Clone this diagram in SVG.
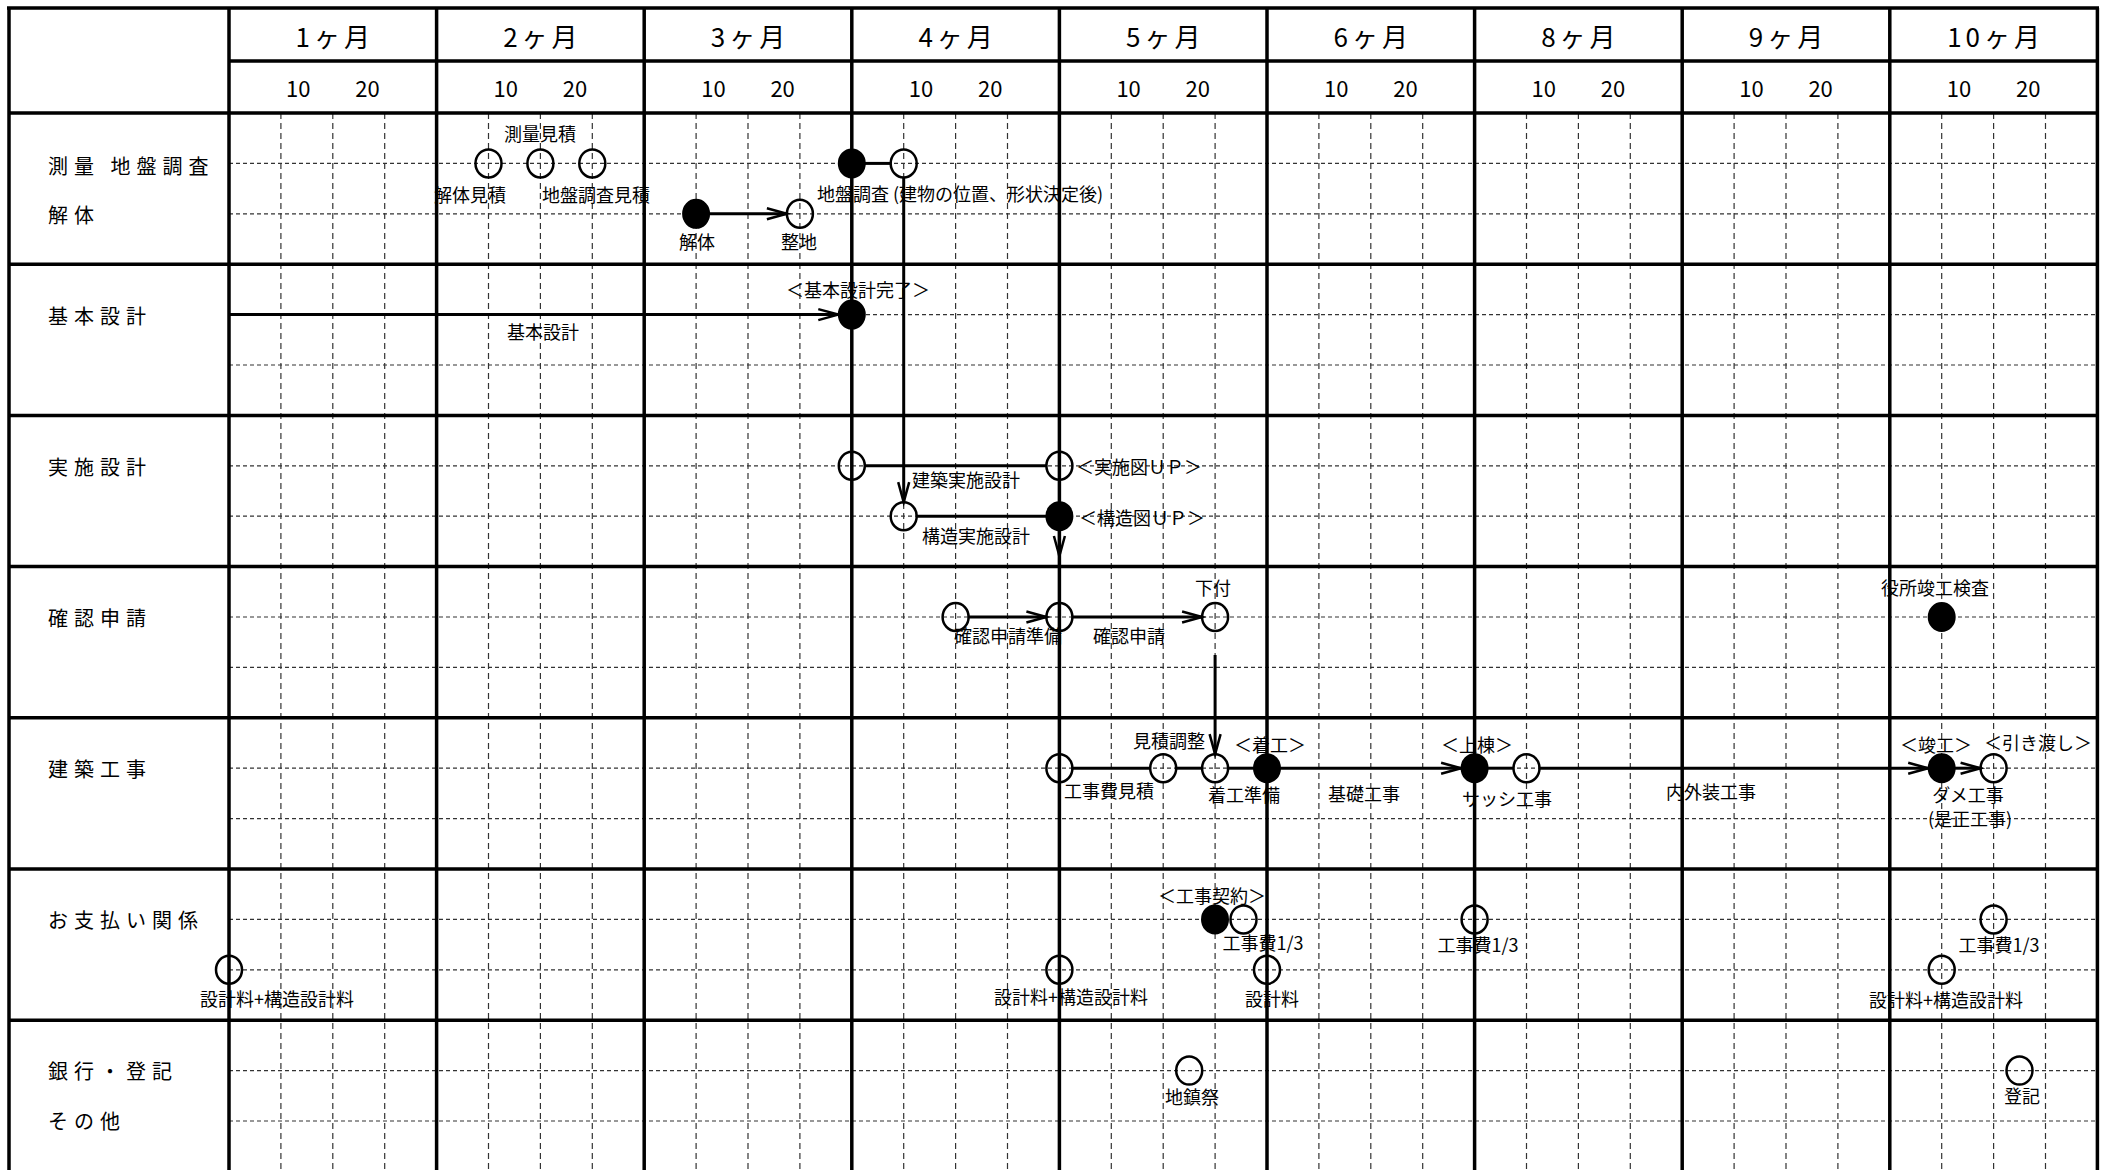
<svg xmlns="http://www.w3.org/2000/svg" width="2101" height="1170" viewBox="0 0 2101 1170">
<style>
.thick{stroke:#000;stroke-width:3.5;fill:none}
.dh{stroke:#333;stroke-width:1.2;stroke-dasharray:4 3;fill:none}
.dv{stroke:#333;stroke-width:1.2;stroke-dasharray:6 4;fill:none}
.open{fill:none;stroke:#000;stroke-width:2.5}
.filled{fill:#000;stroke:#000;stroke-width:2}
.conn{stroke:#000;stroke-width:3;fill:none}
.arr{stroke:#000;stroke-width:3;fill:none;marker-end:url(#ah)}
text{font-family:"Noto Sans CJK JP","Noto Sans CJK SC",sans-serif;fill:#000;dominant-baseline:central}
.lbl{font-size:18px;text-anchor:middle}
.lbs{font-size:18px;text-anchor:start}
.sec{font-size:20px;letter-spacing:6px;text-anchor:start}
.mon{font-size:26px;letter-spacing:4px;text-anchor:middle}
.day{font-size:22px;text-anchor:middle}
</style>
<defs>
<marker id="ah" viewBox="0 0 20 12" refX="20" refY="6" markerWidth="20" markerHeight="12" markerUnits="userSpaceOnUse" orient="auto" overflow="visible">
<path d="M0,0.5 L20,6 L0,11.5" fill="none" stroke="#000" stroke-width="2.5"/>
</marker>
</defs>
<rect x="0" y="0" width="2101" height="1170" fill="#fff"/>
<g id="grid">
<path class="dv" d="M280.9,113V1170M332.8,113V1170M384.7,113V1170M488.5,113V1170M540.4,113V1170M592.3,113V1170M696.1,113V1170M748,113V1170M799.9,113V1170M903.7,113V1170M955.6,113V1170M1007.5,113V1170M1111.3,113V1170M1163.2,113V1170M1215.1,113V1170M1318.9,113V1170M1370.8,113V1170M1422.7,113V1170M1526.5,113V1170M1578.4,113V1170M1630.3,113V1170M1734.1,113V1170M1786,113V1170M1837.9,113V1170M1941.7,113V1170M1993.6,113V1170M2045.5,113V1170"/>
<path class="dh" d="M229,163.4H2097M229,213.8H2097M229,314.6H2097M229,365H2097M229,465.8H2097M229,516.2H2097M229,617H2097M229,667.4H2097M229,768.2H2097M229,818.6H2097M229,919.4H2097M229,969.8H2097M229,1070.6H2097M229,1121H2097"/>
<path class="thick" d="M9,8V1172M229,8V1172M436.6,8V1172M644.2,8V1172M851.8,8V1172M1059.4,8V1172M1267,8V1172M1474.6,8V1172M1682.2,8V1172M1889.8,8V1172M2097.4,8V1172"/>
<path class="thick" d="M7,8H2099M229,61H2097.4M9,113H2097.4M9,264.2H2097.4M9,415.4H2097.4M9,566.6H2097.4M9,717.8H2097.4M9,869H2097.4M9,1020.2H2097.4"/>
</g>
<g id="header">
<text class="mon" x="334.8" y="35">1ヶ月</text>
<text class="mon" x="542.4" y="35">2ヶ月</text>
<text class="mon" x="750" y="35">3ヶ月</text>
<text class="mon" x="957.6" y="35">4ヶ月</text>
<text class="mon" x="1165.2" y="35">5ヶ月</text>
<text class="mon" x="1372.8" y="35">6ヶ月</text>
<text class="mon" x="1580.4" y="35">8ヶ月</text>
<text class="mon" x="1788" y="35">9ヶ月</text>
<text class="mon" x="1995.6" y="35">10ヶ月</text>
<text class="day" x="298.2" y="87">10</text><text class="day" x="367.4" y="87">20</text>
<text class="day" x="505.8" y="87">10</text><text class="day" x="575" y="87">20</text>
<text class="day" x="713.4" y="87">10</text><text class="day" x="782.6" y="87">20</text>
<text class="day" x="921" y="87">10</text><text class="day" x="990.2" y="87">20</text>
<text class="day" x="1128.6" y="87">10</text><text class="day" x="1197.8" y="87">20</text>
<text class="day" x="1336.2" y="87">10</text><text class="day" x="1405.4" y="87">20</text>
<text class="day" x="1543.8" y="87">10</text><text class="day" x="1613" y="87">20</text>
<text class="day" x="1751.4" y="87">10</text><text class="day" x="1820.6" y="87">20</text>
<text class="day" x="1959" y="87">10</text><text class="day" x="2028.2" y="87">20</text>
</g>
<g id="sections">
<text class="sec" x="48" y="165">測量 地盤調査</text>
<text class="sec" x="48" y="214">解体</text>
<text class="sec" x="48" y="315">基本設計</text>
<text class="sec" x="48" y="466">実施設計</text>
<text class="sec" x="48" y="617">確認申請</text>
<text class="sec" x="48" y="768">建築工事</text>
<text class="sec" x="48" y="919">お支払い関係</text>
<text class="sec" x="48" y="1070">銀行・登記</text>
<text class="sec" x="48" y="1120">その他</text>
</g>
<g id="connectors">
<line class="arr" x1="710" y1="213.8" x2="786.9" y2="213.8"/>
<line class="conn" x1="865" y1="163.4" x2="890.7" y2="163.4"/>
<line class="arr" x1="903.7" y1="177.4" x2="903.7" y2="502.2"/>
<line class="arr" x1="229" y1="314.6" x2="838.3" y2="314.6"/>
<line class="conn" x1="864.8" y1="465.8" x2="1046.4" y2="465.8"/>
<line class="conn" x1="916.7" y1="516.2" x2="1046.4" y2="516.2"/>
<line class="arr" x1="1059.4" y1="530" x2="1059.4" y2="556"/>
<line class="arr" x1="968.6" y1="617" x2="1046.4" y2="617"/>
<line class="arr" x1="1072.4" y1="617" x2="1202.1" y2="617"/>
<line class="arr" x1="1215.1" y1="655" x2="1215.1" y2="754.2"/>
<line class="conn" x1="1072.4" y1="768.2" x2="1150.2" y2="768.2"/>
<line class="conn" x1="1176.2" y1="768.2" x2="1202.1" y2="768.2"/>
<line class="conn" x1="1228.1" y1="768.2" x2="1254" y2="768.2"/>
<line class="arr" x1="1280" y1="768.2" x2="1461.1" y2="768.2"/>
<line class="conn" x1="1487.6" y1="768.2" x2="1513.5" y2="768.2"/>
<line class="arr" x1="1539.5" y1="768.2" x2="1928.2" y2="768.2"/>
<line class="arr" x1="1954.7" y1="768.2" x2="1980.6" y2="768.2"/>
<text class="lbl" x="543" y="331">基本設計</text>
<text class="lbl" x="966" y="479">建築実施設計</text>
<text class="lbl" x="976" y="535">構造実施設計</text>
<text class="lbl" x="1129" y="635">確認申請</text>
<text class="lbl" x="1364" y="793">基礎工事</text>
<text class="lbl" x="1711" y="791">内外装工事</text>
</g>
<g id="n-kaitai-mitsumori"><ellipse class="open" cx="488.5" cy="163.4" rx="13" ry="14"/><text class="lbl" x="470" y="194">解体見積</text></g>
<g id="n-sokuryo-mitsumori"><ellipse class="open" cx="540.4" cy="163.4" rx="13" ry="14"/><text class="lbl" x="540" y="133">測量見積</text></g>
<g id="n-jiban-mitsumori"><ellipse class="open" cx="592.3" cy="163.4" rx="13" ry="14"/><text class="lbl" x="596" y="194">地盤調査見積</text></g>
<g id="n-kaitai"><ellipse class="filled" cx="696.1" cy="213.8" rx="13" ry="14"/><text class="lbl" x="697" y="241">解体</text></g>
<g id="n-seichi"><ellipse class="open" cx="799.9" cy="213.8" rx="13" ry="14"/><text class="lbl" x="799" y="241">整地</text></g>
<g id="n-jiban-start"><ellipse class="filled" cx="851.8" cy="163.4" rx="13" ry="14"/><text class="lbs" x="817" y="193">地盤調査 (建物の位置、形状決定後)</text></g>
<g id="n-jiban-end"><ellipse class="open" cx="903.7" cy="163.4" rx="13" ry="14"/></g>
<g id="n-kihon-kanryo"><ellipse class="filled" cx="851.8" cy="314.6" rx="13" ry="14"/><text class="lbl" x="858" y="289">＜基本設計完了＞</text></g>
<g id="n-kenchiku-start"><ellipse class="open" cx="851.8" cy="465.8" rx="13" ry="14"/></g>
<g id="n-jisshizu-up"><ellipse class="open" cx="1059.4" cy="465.8" rx="13" ry="14"/><text class="lbs" x="1076" y="466">＜実施図ＵＰ＞</text></g>
<g id="n-kozo-start"><ellipse class="open" cx="903.7" cy="516.2" rx="13" ry="14"/></g>
<g id="n-kozozu-up"><ellipse class="filled" cx="1059.4" cy="516.2" rx="13" ry="14"/><text class="lbs" x="1079" y="517">＜構造図ＵＰ＞</text></g>
<g id="n-kakunin-junbi"><ellipse class="open" cx="955.6" cy="617" rx="13" ry="14"/><text class="lbl" x="1008" y="635">確認申請準備</text></g>
<g id="n-kakunin"><ellipse class="open" cx="1059.4" cy="617" rx="13" ry="14"/></g>
<g id="n-shitazuke"><ellipse class="open" cx="1215.1" cy="617" rx="13" ry="14"/><text class="lbl" x="1213" y="587">下付</text></g>
<g id="n-yakusho"><ellipse class="filled" cx="1941.7" cy="617" rx="13" ry="14"/><text class="lbl" x="1935" y="587">役所竣工検査</text></g>
<g id="n-kojihi-mitsumori"><ellipse class="open" cx="1059.4" cy="768.2" rx="13" ry="14"/><text class="lbl" x="1109" y="790">工事費見積</text></g>
<g id="n-mitsumori-chosei"><ellipse class="open" cx="1163.2" cy="768.2" rx="13" ry="14"/><text class="lbl" x="1169" y="740">見積調整</text></g>
<g id="n-chakko-junbi"><ellipse class="open" cx="1215.1" cy="768.2" rx="13" ry="14"/><text class="lbl" x="1244" y="794">着工準備</text></g>
<g id="n-chakko"><ellipse class="filled" cx="1267" cy="768.2" rx="13" ry="14"/><text class="lbl" x="1270" y="744">＜着工＞</text></g>
<g id="n-jotou"><ellipse class="filled" cx="1474.6" cy="768.2" rx="13" ry="14"/><text class="lbl" x="1477" y="744">＜上棟＞</text></g>
<g id="n-sasshi"><ellipse class="open" cx="1526.5" cy="768.2" rx="13" ry="14"/><text class="lbl" x="1507" y="798">サッシ工事</text></g>
<g id="n-shunko"><ellipse class="filled" cx="1941.7" cy="768.2" rx="13" ry="14"/><text class="lbl" x="1936" y="744">＜竣工＞</text><text class="lbl" x="1968" y="794">ダメ工事</text><text class="lbl" x="1970" y="818">(是正工事)</text></g>
<g id="n-hikiwatashi"><ellipse class="open" cx="1993.6" cy="768.2" rx="13" ry="14"/><text class="lbl" x="2038" y="742">＜引き渡し＞</text></g>
<g id="n-pay1"><ellipse class="open" cx="229" cy="969.8" rx="13" ry="14"/><text class="lbl" x="277" y="998">設計料+構造設計料</text></g>
<g id="n-pay2"><ellipse class="open" cx="1059.4" cy="969.8" rx="13" ry="14"/><text class="lbl" x="1071" y="996">設計料+構造設計料</text></g>
<g id="n-keiyaku"><ellipse class="filled" cx="1215" cy="919.4" rx="13" ry="14"/><text class="lbl" x="1212" y="895">＜工事契約＞</text></g>
<g id="n-kojihi1"><ellipse class="open" cx="1243.5" cy="919.4" rx="13" ry="14"/><text class="lbl" x="1263" y="942">工事費1/3</text></g>
<g id="n-sekkeiryo"><ellipse class="open" cx="1267" cy="969.8" rx="13" ry="14"/><text class="lbl" x="1272" y="998">設計料</text></g>
<g id="n-kojihi2"><ellipse class="open" cx="1474.6" cy="919.4" rx="13" ry="14"/><text class="lbl" x="1478" y="944">工事費1/3</text></g>
<g id="n-kojihi3"><ellipse class="open" cx="1993.6" cy="919.4" rx="13" ry="14"/><text class="lbl" x="1999" y="944">工事費1/3</text></g>
<g id="n-pay3"><ellipse class="open" cx="1941.7" cy="969.8" rx="13" ry="14"/><text class="lbl" x="1946" y="999">設計料+構造設計料</text></g>
<g id="n-jichinsai"><ellipse class="open" cx="1189.2" cy="1070.6" rx="13" ry="14"/><text class="lbl" x="1192" y="1096">地鎮祭</text></g>
<g id="n-toki"><ellipse class="open" cx="2019.5" cy="1070.6" rx="13" ry="14"/><text class="lbl" x="2022" y="1095">登記</text></g>
</svg>
